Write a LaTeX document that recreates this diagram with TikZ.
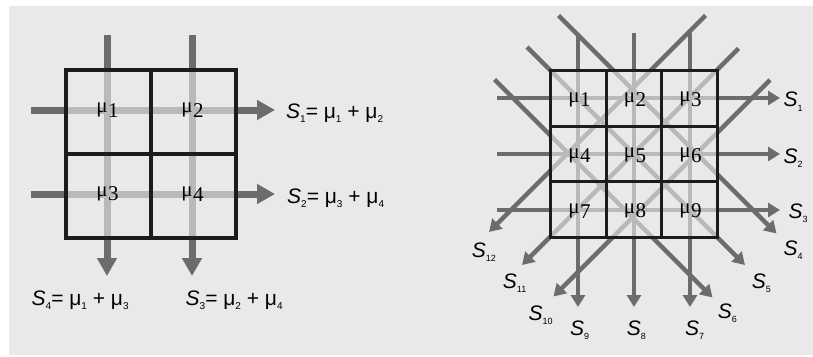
\documentclass[tikz,border=0pt]{standalone}
\usepackage{fontspec}
\setmainfont{Liberation Sans}
\newfontfamily\cellfont{Liberation Serif}
\usetikzlibrary{arrows.meta}

\definecolor{paper}{RGB}{233,233,233}
\definecolor{ray}{RGB}{108,108,108}
\definecolor{wire}{RGB}{28,28,28}

% lowered small index used after S and mu
\newcommand\idx[2]{\raisebox{-0.22em}{\fontsize{#1}{#1}\selectfont #2}}
% cell label: mu with a large lowered digit
\newcommand\cellmu[1]{{\cellfont μ\kern0.5pt\raisebox{-4.5pt}{#1}}}

\tikzset{
  bigray/.style={draw=ray, line width=7pt, -{Triangle[length=18pt,width=19pt]}},
  smallray/.style={draw=ray, line width=4.5pt, -{Triangle[length=12pt,width=14pt]}},
  cellveil/.style={fill=paper, fill opacity=0.62},
  gridline/.style={draw=wire, line width=3.2pt},
  finegrid/.style={draw=wire, line width=3pt},
  celltext/.style={font=\fontsize{21}{21}\selectfont, inner sep=0pt},
  eqtext/.style={font=\fontsize{21}{21}\selectfont, anchor=base west, inner sep=0pt},
  outtext/.style={font=\fontsize{21}{21}\selectfont, anchor=base west, inner sep=0pt},
}

\begin{document}
\begin{tikzpicture}[x=1pt, y=-1pt]
\useasboundingbox (0,0) rectangle (813,356);
\fill[white] (0,0) rectangle (813,356);
\fill[paper] (9,6) rectangle (813,355);

% ---------- left panel: 2 x 2 grid ----------
\coordinate (la) at (66,70);
\coordinate (lb) at (236,238);
\draw[bigray] (107,35) -- (107,276);
\draw[bigray] (192,35) -- (192,276);
\draw[bigray] (31,110) -- (275,110);
\draw[bigray] (31,194) -- (275,194);
\fill[cellveil] (la) rectangle (lb);
\draw[gridline] (la) rectangle (lb) (151,70) -- (151,238) (66,154) -- (236,154);

\node[celltext] (m1) at (107.5,110) {\cellmu{1}};
\node[celltext] (m2) at (192.5,110) {\cellmu{2}};
\node[celltext] (m3) at (107.5,194) {\cellmu{3}};
\node[celltext] (m4) at (192.5,194) {\cellmu{4}};

\node[eqtext] (e1) at (286,118) {{\itshape S}\idx{10}{1}= μ\idx{10}{1} + μ\idx{10}{2}};
\node[eqtext] (e2) at (287,203) {{\itshape S}\idx{10}{2}= μ\idx{10}{3} + μ\idx{10}{4}};
\node[eqtext] (e4) at (31.5,305) {{\itshape S}\idx{10}{4}= μ\idx{10}{1} + μ\idx{10}{3}};
\node[eqtext] (e3) at (185.5,305) {{\itshape S}\idx{10}{3}= μ\idx{10}{2} + μ\idx{10}{4}};

% ---------- right panel: 3 x 3 grid ----------
\coordinate (ra) at (550.5,70.5);
\coordinate (rb) at (717.5,237.5);
% straight rays
\foreach \x in {578,634,690} \draw[smallray] (\x,33) -- (\x,307);
\foreach \y in {98,154,210} \draw[smallray] (497,\y) -- (780,\y);
% rays running down to the right
\draw[smallray] (558.5,15.5) -- (776.5,233.5);
\draw[smallray] (527,47) -- (745,265);
\draw[smallray] (494.5,79.5) -- (712.5,297.5);
% rays running down to the left
\draw[smallray] (705.5,15.5) -- (489,232);
\draw[smallray] (738.5,48.5) -- (522,265);
\draw[smallray] (770,80) -- (553.5,296.5);

\fill[cellveil] (ra) rectangle (rb);
\draw[finegrid] (ra) rectangle (rb)
  (606.2,70.5) -- (606.2,237.5) (661.8,70.5) -- (661.8,237.5)
  (550.5,126.2) -- (717.5,126.2) (550.5,181.8) -- (717.5,181.8);

\node[celltext] (n1) at (579.5,99.5) {\cellmu{1}};
\node[celltext] (n2) at (635,99.5) {\cellmu{2}};
\node[celltext] (n3) at (690.5,99.5) {\cellmu{3}};
\node[celltext] (n4) at (579.5,155.5) {\cellmu{4}};
\node[celltext] (n5) at (635,155.5) {\cellmu{5}};
\node[celltext] (n6) at (690.5,155.5) {\cellmu{6}};
\node[celltext] (n7) at (579.5,211) {\cellmu{7}};
\node[celltext] (n8) at (635,211) {\cellmu{8}};
\node[celltext] (n9) at (690.5,211) {\cellmu{9}};

\node[outtext] (s1) at (783.3,106.7) {{\itshape S}\idx{9}{1}};
\node[outtext] (s2) at (783.3,163.3) {{\itshape S}\idx{9}{2}};
\node[outtext] (s3) at (788.3,218.3) {{\itshape S}\idx{9}{3}};
\node[outtext] (s4) at (783.3,255) {{\itshape S}\idx{9}{4}};
\node[outtext] (s5) at (751.7,288.3) {{\itshape S}\idx{9}{5}};
\node[outtext] (s6) at (717.7,318.3) {{\itshape S}\idx{9}{6}};
\node[outtext] (s7) at (685,335) {{\itshape S}\idx{9}{7}};
\node[outtext] (s8) at (626.7,335) {{\itshape S}\idx{9}{8}};
\node[outtext] (s9) at (570,335) {{\itshape S}\idx{9}{9}};
\node[outtext] (s10) at (528.3,320) {{\itshape S}\idx{9}{10}};
\node[outtext] (s11) at (502.7,288.3) {{\itshape S}\idx{9}{11}};
\node[outtext] (s12) at (471.7,257.3) {{\itshape S}\idx{9}{12}};
\end{tikzpicture}
\end{document}
